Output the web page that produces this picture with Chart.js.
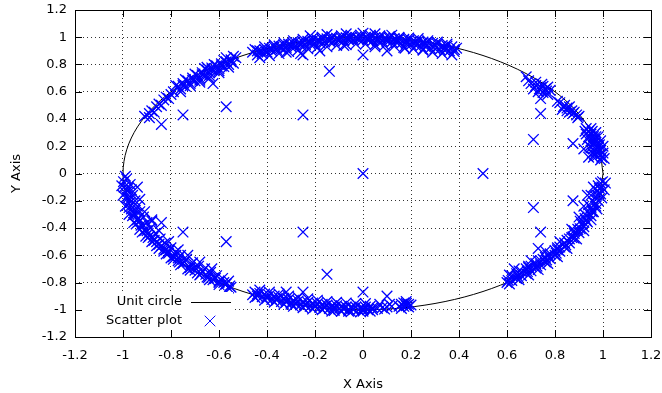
<!DOCTYPE html>
<html><head><meta charset="utf-8">
<script src="https://cdn.jsdelivr.net/npm/chart.js@4/dist/chart.umd.min.js"></script>
<style>html,body{margin:0;padding:0;background:#fff;}</style>
</head><body>
<canvas id="c" width="662" height="393"></canvas>
<script>
// ---- tick labels ----
const tickValues = [-1.2,-1,-0.8,-0.6,-0.4,-0.2,0,0.2,0.4,0.6,0.8,1,1.2];
const tickLabels = ['-1.2','-1','-0.8','-0.6','-0.4','-0.2','0','0.2','0.4','0.6','0.8','1','1.2'];

// ---- unit circle (every 10 degrees) ----
const circleX = [1,0.9848,0.9397,0.8660,0.7660,0.6428,0.5,0.3420,0.1736,0,-0.1736,-0.3420,-0.5,-0.6428,-0.7660,-0.8660,-0.9397,-0.9848,-1,-0.9848,-0.9397,-0.8660,-0.7660,-0.6428,-0.5,-0.3420,-0.1736,0,0.1736,0.3420,0.5,0.6428,0.7660,0.8660,0.9397,0.9848,1];
const circleY = [0,0.1736,0.3420,0.5,0.6428,0.7660,0.8660,0.9397,0.9848,1,0.9848,0.9397,0.8660,0.7660,0.6428,0.5,0.3420,0.1736,0,-0.1736,-0.3420,-0.5,-0.6428,-0.7660,-0.8660,-0.9397,-0.9848,-1,-0.9848,-0.9397,-0.8660,-0.7660,-0.6428,-0.5,-0.3420,-0.1736,0];

// ---- scatter points, by cluster [x, y] ----
const topArc = [
[-0.46,0.89],[-0.44,0.90],[-0.43,0.90],[-0.41,0.91],[-0.39,0.92],[-0.37,0.93],[-0.35,0.935],[-0.33,0.945],[-0.31,0.95],[-0.29,0.955],[-0.27,0.96],[-0.25,0.965],[-0.23,0.97],[-0.21,0.975],[-0.19,0.98],[-0.17,0.985],[-0.15,0.988],[-0.13,0.99],[-0.11,0.993],[-0.09,0.995],[-0.07,0.997],[-0.05,0.998],[-0.03,1.0],[-0.01,1.0],[0.01,1.0],[0.03,0.999],[0.05,0.998],[0.07,0.997],[0.09,0.995],[0.11,0.993],[0.13,0.99],[0.15,0.988],[0.17,0.985],[0.19,0.98],[0.21,0.975],[0.23,0.97],[0.25,0.965],[0.27,0.96],[0.29,0.955],[0.31,0.95],[0.33,0.94],[0.35,0.935],[0.37,0.93],[0.39,0.92],
[-0.44,0.87],[-0.42,0.88],[-0.40,0.89],[-0.38,0.90],[-0.36,0.91],[-0.34,0.915],[-0.32,0.925],[-0.30,0.93],[-0.28,0.935],[-0.26,0.94],[-0.24,0.945],[-0.22,0.95],[-0.20,0.955],[-0.18,0.96],[-0.16,0.965],[-0.14,0.97],[-0.12,0.97],[-0.10,0.975],[-0.08,0.975],[-0.06,0.98],[-0.04,0.98],[-0.02,0.985],[0.00,0.98],[0.02,0.98],[0.04,0.975],[0.06,0.975],[0.08,0.97],[0.10,0.97],[0.12,0.965],[0.14,0.96],[0.16,0.955],[0.18,0.95],[0.20,0.945],[0.22,0.94],[0.24,0.935],[0.26,0.93],[0.28,0.92],[0.30,0.915],[0.32,0.91],[0.34,0.905],[0.36,0.90],[0.38,0.895],
[-0.45,0.91],[-0.41,0.93],[-0.37,0.945],[-0.33,0.96],[-0.29,0.975],[-0.25,0.985],[-0.21,0.995],[-0.17,1.0],[-0.13,1.005],[-0.09,1.01],[-0.05,1.015],[-0.01,1.015],[0.03,1.015],[0.07,1.01],[0.11,1.005],[0.15,1.0],[0.19,0.995],[0.23,0.99],[0.27,0.975],[0.31,0.965],[0.35,0.95],
[-0.43,0.85],[-0.39,0.865],[-0.35,0.88],[-0.31,0.895],[-0.27,0.905],[-0.23,0.915],[-0.19,0.925],[-0.15,0.93],[-0.11,0.94],[-0.07,0.945],[-0.03,0.95],[0.01,0.95],[0.05,0.945],[0.09,0.94],[0.13,0.935],[0.17,0.925],[0.21,0.915],[0.25,0.905],[0.29,0.89],[0.33,0.88],[0.37,0.87],
[-0.42,0.895],[-0.38,0.915],[-0.34,0.93],[-0.30,0.945],[-0.26,0.955],[-0.22,0.965],[-0.18,0.975],[-0.14,0.98],[-0.10,0.985],[-0.06,0.99],[-0.02,0.99],[0.02,0.99],[0.06,0.985],[0.10,0.985],[0.14,0.98],[0.18,0.97],[0.22,0.965],[0.26,0.955],[0.30,0.94],[0.34,0.925],[0.38,0.91],
[-0.15,1.02],[-0.07,1.025],[0.0,1.03],[0.05,1.025],[0.12,1.015],[-0.22,1.01],
[-0.32,0.89],[-0.26,0.88],[-0.18,0.90],[0.10,0.90],[0.175,0.92],[0.05,0.93],[-0.08,0.94],[0.25,0.91]
];
const upperLeftArc = [
[-0.53,0.85],[-0.55,0.835],[-0.57,0.82],[-0.59,0.805],[-0.61,0.79],[-0.63,0.775],[-0.65,0.76],[-0.67,0.74],[-0.69,0.72],[-0.71,0.70],[-0.73,0.68],[-0.75,0.66],[-0.77,0.64],
[-0.54,0.81],[-0.56,0.80],[-0.58,0.785],[-0.60,0.77],[-0.62,0.755],[-0.64,0.74],[-0.66,0.72],[-0.68,0.70],[-0.70,0.68],[-0.72,0.66],[-0.74,0.64],[-0.76,0.62],
[-0.54,0.86],[-0.58,0.83],[-0.62,0.80],[-0.66,0.77],[-0.70,0.73],[-0.74,0.69],[-0.78,0.645],
[-0.56,0.78],[-0.60,0.755],[-0.64,0.72],[-0.68,0.685],[-0.72,0.645],[-0.76,0.60],
[-0.55,0.82],[-0.59,0.79],[-0.63,0.76],[-0.67,0.725],[-0.71,0.685],[-0.75,0.645],[-0.57,0.85],[-0.65,0.78],
[-0.60,0.74],[-0.64,0.70],[-0.625,0.66],[-0.68,0.67],
[-0.79,0.60],[-0.80,0.58],[-0.82,0.56],[-0.83,0.54],[-0.85,0.51],[-0.86,0.49],[-0.88,0.46],[-0.89,0.44],[-0.91,0.42],[-0.81,0.55],[-0.84,0.50],[-0.87,0.45]
];
const lowerLeftArc = [
[-0.998,-0.06],[-0.995,-0.10],[-0.99,-0.14],[-0.98,-0.18],[-0.975,-0.22],[-0.965,-0.26],[-0.95,-0.30],[-0.94,-0.34],[-0.925,-0.38],[-0.91,-0.42],[-0.89,-0.46],[-0.87,-0.49],[-0.85,-0.52],[-0.83,-0.555],[-0.81,-0.585],[-0.79,-0.61],[-0.77,-0.64],[-0.75,-0.66],[-0.72,-0.69],[-0.70,-0.71],[-0.675,-0.735],[-0.65,-0.76],[-0.625,-0.78],[-0.60,-0.80],[-0.575,-0.815],[-0.55,-0.835],
[-0.97,-0.08],[-0.965,-0.12],[-0.96,-0.16],[-0.95,-0.20],[-0.94,-0.24],[-0.93,-0.28],[-0.915,-0.32],[-0.90,-0.36],[-0.885,-0.40],[-0.865,-0.44],[-0.845,-0.48],[-0.825,-0.51],[-0.80,-0.545],[-0.78,-0.575],[-0.76,-0.60],[-0.735,-0.63],[-0.71,-0.655],[-0.685,-0.68],[-0.66,-0.70],[-0.635,-0.725],[-0.61,-0.75],[-0.585,-0.77],[-0.56,-0.79],
[-0.98,-0.11],[-0.97,-0.19],[-0.95,-0.27],[-0.93,-0.35],[-0.90,-0.42],[-0.86,-0.50],[-0.82,-0.56],[-0.77,-0.62],[-0.72,-0.67],[-0.67,-0.72],[-0.62,-0.765],[-0.58,-0.80],
[-1.005,-0.09],[-1.0,-0.16],[-0.99,-0.24],[-0.975,-0.30],[-0.955,-0.36],[-0.93,-0.41],[-0.905,-0.46],[-0.88,-0.50],[-0.85,-0.55],[-0.82,-0.59],[-0.79,-0.63],[-0.76,-0.67],[-0.72,-0.71],[-0.68,-0.745],[-0.64,-0.78],[-0.60,-0.815],[-0.56,-0.84],
[-0.985,-0.04],[-0.98,-0.13],[-0.97,-0.21],[-0.955,-0.29],[-0.935,-0.33],[-0.915,-0.38],[-0.895,-0.44],[-0.875,-0.47],[-0.84,-0.53],[-0.81,-0.57],[-0.78,-0.60],[-0.745,-0.65],[-0.70,-0.69],[-0.655,-0.74],[-0.615,-0.77],[-0.57,-0.81],
[-0.99,-0.02],[-0.985,-0.17],[-0.975,-0.25],[-0.96,-0.31],[-0.945,-0.37],[-0.92,-0.43],[-0.895,-0.47],[-0.86,-0.53],[-0.83,-0.57],[-0.80,-0.62],[-0.765,-0.65],[-0.73,-0.70],[-0.69,-0.73],[-0.645,-0.765],[-0.60,-0.79],[-0.555,-0.825],
[-0.94,-0.10],[-0.93,-0.19],[-0.91,-0.28],[-0.88,-0.35],[-0.85,-0.42],[-0.81,-0.50],[-0.77,-0.56],[-0.73,-0.60],[-0.68,-0.65],[-0.63,-0.70]
];
const bottomArc = [
[-0.46,-0.89],[-0.44,-0.90],[-0.42,-0.905],[-0.40,-0.915],[-0.38,-0.925],[-0.36,-0.93],[-0.34,-0.94],[-0.32,-0.945],[-0.30,-0.95],[-0.28,-0.96],[-0.26,-0.965],[-0.24,-0.97],[-0.22,-0.975],[-0.20,-0.98],[-0.18,-0.983],[-0.16,-0.987],[-0.14,-0.99],[-0.12,-0.993],[-0.10,-0.995],[-0.08,-0.997],[-0.06,-0.998],[-0.04,-0.999],[-0.02,-1.0],[0.0,-1.0],[0.02,-1.0],[0.04,-0.999],
[-0.45,-0.87],[-0.43,-0.88],[-0.41,-0.885],[-0.39,-0.895],[-0.37,-0.90],[-0.35,-0.91],[-0.33,-0.915],[-0.31,-0.925],[-0.29,-0.93],[-0.27,-0.935],[-0.25,-0.94],[-0.23,-0.945],[-0.21,-0.95],[-0.19,-0.955],[-0.17,-0.96],[-0.15,-0.965],[-0.13,-0.97],[-0.11,-0.97],[-0.09,-0.975],[-0.07,-0.98],[-0.05,-0.98],[-0.03,-0.98],[-0.01,-0.985],[0.01,-0.98],[0.03,-0.975],
[-0.45,-0.91],[-0.41,-0.93],[-0.37,-0.945],[-0.33,-0.96],[-0.29,-0.975],[-0.25,-0.985],[-0.21,-0.995],[-0.17,-1.0],[-0.13,-1.01],[-0.09,-1.01],[-0.05,-1.015],[-0.01,-1.015],[0.03,-1.01],
[-0.43,-0.855],[-0.39,-0.87],[-0.35,-0.885],[-0.31,-0.90],[-0.27,-0.91],[-0.23,-0.92],[-0.19,-0.93],[-0.15,-0.94],[-0.11,-0.945],[-0.07,-0.95],[-0.03,-0.955],[0.01,-0.955],
[-0.44,-0.885],[-0.40,-0.905],[-0.36,-0.92],[-0.32,-0.935],[-0.28,-0.95],[-0.24,-0.96],[-0.20,-0.97],[-0.16,-0.975],[-0.12,-0.98],[-0.08,-0.985],[-0.04,-0.99],[0.0,-0.99],[0.04,-0.985],
[-0.12,-1.005],[-0.06,-1.01],[0.0,-1.01],[-0.30,-0.96],
[0.06,-0.99],[0.08,-0.985],[0.10,-0.98],[0.07,-0.96],[0.11,-0.96],[0.09,-0.995],[0.12,-0.975],
[0.15,-0.975],[0.17,-0.975],[0.18,-0.97],[0.19,-0.98],[0.16,-0.96],[0.18,-0.955],[0.20,-0.965],[0.16,-0.99],[0.19,-0.96],[0.17,-0.95]
];
const lowerRightArc = [
[0.60,-0.80],[0.62,-0.785],[0.64,-0.77],[0.66,-0.75],[0.68,-0.733],[0.70,-0.714],[0.72,-0.694],[0.74,-0.67],[0.76,-0.65],[0.78,-0.625],[0.80,-0.60],[0.82,-0.57],[0.84,-0.54],[0.86,-0.51],[0.88,-0.475],[0.90,-0.435],[0.92,-0.39],[0.935,-0.355],[0.95,-0.31],[0.96,-0.28],[0.97,-0.24],[0.98,-0.20],[0.99,-0.15],[0.995,-0.10],[0.998,-0.06],
[0.62,-0.75],[0.64,-0.735],[0.66,-0.72],[0.68,-0.70],[0.70,-0.68],[0.72,-0.66],[0.74,-0.64],[0.76,-0.615],[0.78,-0.59],[0.80,-0.565],[0.82,-0.54],[0.84,-0.51],[0.86,-0.48],[0.88,-0.44],[0.895,-0.41],[0.91,-0.37],[0.925,-0.33],[0.94,-0.29],[0.95,-0.25],[0.96,-0.21],[0.97,-0.17],[0.975,-0.13],[0.98,-0.09],
[0.69,-0.69],[0.75,-0.63],[0.81,-0.56],[0.87,-0.47],[0.92,-0.36],[0.955,-0.27],[0.975,-0.16],[0.985,-0.11],
[0.61,-0.81],[0.65,-0.78],[0.69,-0.745],[0.73,-0.705],[0.77,-0.66],[0.81,-0.61],[0.85,-0.55],[0.89,-0.48],[0.92,-0.42],[0.95,-0.34],[0.975,-0.26],[0.995,-0.18],[1.005,-0.12],[1.01,-0.07],
[0.61,-0.745],[0.65,-0.715],[0.69,-0.68],[0.73,-0.64],[0.77,-0.60],[0.81,-0.545],[0.85,-0.49],[0.88,-0.42],[0.905,-0.35],[0.925,-0.30],[0.94,-0.23],[0.95,-0.16],[0.96,-0.10],
[0.605,-0.785],[0.645,-0.755],[0.685,-0.72],[0.725,-0.68],[0.765,-0.635],[0.805,-0.585],[0.845,-0.525],[0.875,-0.465],[0.905,-0.405],[0.93,-0.345],[0.955,-0.28],[0.97,-0.22],[0.985,-0.14],[0.99,-0.07],
[0.63,-0.70],[0.70,-0.64],[0.76,-0.57],[0.82,-0.50],[0.87,-0.41],[0.90,-0.32],[0.92,-0.24],[0.935,-0.16]
];
const upperRightArc = [
[0.70,0.66],[0.72,0.645],[0.74,0.63],[0.75,0.64],[0.76,0.62],[0.77,0.635],[0.78,0.61],[0.73,0.60],[0.71,0.62],[0.75,0.595],[0.69,0.68],[0.77,0.58],[0.745,0.655],[0.72,0.67],[0.765,0.605],[0.735,0.62],[0.68,0.71],
[0.82,0.52],[0.84,0.50],[0.85,0.48],[0.86,0.49],[0.87,0.46],[0.88,0.45],[0.89,0.43],[0.90,0.42],[0.83,0.47],[0.86,0.45],[0.835,0.49],[0.875,0.44],[0.85,0.46],[0.895,0.41],[0.81,0.53],
[0.93,0.33],[0.94,0.31],[0.95,0.29],[0.96,0.27],[0.965,0.25],[0.97,0.23],[0.975,0.21],[0.98,0.19],[0.985,0.17],[0.99,0.14],[0.995,0.12],[0.94,0.27],[0.95,0.24],[0.96,0.22],[0.965,0.19],[0.97,0.16],[0.975,0.13],[0.93,0.29],[0.945,0.20],[0.955,0.15],[0.96,0.12],[0.99,0.10],[0.94,0.12],[0.92,0.18],
[1.0,0.20],[1.0,0.15],[0.99,0.24],[0.98,0.27],[0.97,0.30],[0.95,0.33],[1.005,0.11],
[0.925,0.31],[0.935,0.25],[0.95,0.19],[0.965,0.14],[0.985,0.21],[0.99,0.17],[0.97,0.27],[0.955,0.31]
];
const innerPoints = [
[0,0],[0.5,0],[-0.25,0.43],[-0.25,-0.43],[-0.57,0.49],[-0.57,-0.5],[-0.75,0.43],[-0.75,-0.43],[-0.84,0.36],[-0.84,-0.36],[-0.89,0.41],[-0.88,-0.34],
[-0.14,0.75],[-0.15,-0.74],[0,0.87],[0,-0.87],[-0.25,0.87],[-0.25,-0.87],[-0.32,-0.87],[0.1,-0.9],[0.18,-0.94],
[0.71,0.25],[0.71,-0.25],[0.74,0.44],[0.74,-0.43],[0.875,0.22],[0.875,-0.2],[0.73,-0.55],[0.74,0.55]
];

const FONT = {family: "'DejaVu Sans', sans-serif", size: 13};
const BLUE = '#0000ff';

const toXY = a => a.map(([x, y]) => ({x, y}));
const scatterData = toXY([...topArc, ...upperLeftArc, ...lowerLeftArc, ...bottomArc, ...lowerRightArc, ...upperRightArc, ...innerPoints]);
const circleData = circleX.map((x, i) => ({x, y: circleY[i]}));

const framePlugin = {
  id: 'frame',
  afterDatasetsDraw(chart) {
    const {ctx, chartArea: a, scales: {x, y}} = chart;
    ctx.save();
    ctx.fillStyle = '#fff';
    ctx.fillRect(a.left + 1, 292, 157, a.bottom - 292 - 1);
    ctx.strokeStyle = '#000';
    ctx.lineWidth = 1;
    ctx.setLineDash([]);
    ctx.strokeRect(Math.round(a.left) + 0.5, Math.round(a.top) + 0.5, Math.round(a.right - a.left), Math.round(a.bottom - a.top));
    const L = 7;
    ctx.beginPath();
    tickValues.forEach(v => {
      const px = Math.round(x.getPixelForValue(v)) + 0.5;
      ctx.moveTo(px, a.bottom); ctx.lineTo(px, a.bottom - L);
      ctx.moveTo(px, a.top); ctx.lineTo(px, a.top + L);
      const py = Math.round(y.getPixelForValue(v)) + 0.5;
      ctx.moveTo(a.left, py); ctx.lineTo(a.left + L, py);
      ctx.moveTo(a.right, py); ctx.lineTo(a.right - L, py);
    });
    ctx.stroke();
    ctx.font = `${FONT.size}px ${FONT.family}`;
    ctx.fillStyle = '#000';
    ctx.textAlign = 'right';
    ctx.textBaseline = 'middle';
    const ds = chart.data.datasets;
    ctx.fillText(ds[0].label, 182, 302);
    ctx.fillText(ds[1].label, 182, 321);
    ctx.beginPath();
    ctx.moveTo(191, 302.5); ctx.lineTo(231, 302.5);
    ctx.stroke();
    ctx.strokeStyle = BLUE;
    const h = 5.3;
    ctx.beginPath();
    ctx.moveTo(210 - h, 321 - h); ctx.lineTo(210 + h, 321 + h);
    ctx.moveTo(210 - h, 321 + h); ctx.lineTo(210 + h, 321 - h);
    ctx.stroke();
    ctx.restore();
  }
};

const noPad = s => { s.paddingTop = 0; s.paddingBottom = 0; s.paddingLeft = 0; s.paddingRight = 0; };
const axisCommon = {
  type: 'linear', min: -1.2, max: 1.2,
  afterBuildTicks: s => { s.ticks = tickValues.map(v => ({value: v})); },
  grid: {color: 'rgba(0,0,0,0.8)', lineWidth: 1, drawTicks: false},
  border: {display: false, dash: [1, 3]},
};

new Chart(document.getElementById('c'), {
  type: 'scatter',
  data: {
    datasets: [
      {label: 'Unit circle', data: circleData, showLine: true, borderColor: '#000', borderWidth: 1, pointRadius: 0, tension: 0.335, fill: false, order: 2},
      {label: 'Scatter plot', data: scatterData, pointStyle: 'crossRot', pointRadius: 7.5, borderColor: BLUE, backgroundColor: BLUE, pointBorderWidth: 1.3, borderWidth: 1.3, showLine: false, order: 1}
    ]
  },
  options: {
    responsive: false, animation: false, devicePixelRatio: 1, events: [],
    layout: {padding: {top: 10, right: 11, left: 0, bottom: 0}},
    plugins: {legend: {display: false}, tooltip: {enabled: false}},
    scales: {
      x: Object.assign({}, axisCommon, {
        position: 'bottom',
        ticks: {callback: (v, i) => tickLabels[i], font: FONT, color: '#000', padding: 11, autoSkip: false, maxRotation: 0},
        title: {display: true, text: 'X Axis', font: FONT, color: '#000', padding: {top: 0, bottom: 1}},
        afterFit: s => { s.height = 56; noPad(s); }
      }),
      y: Object.assign({}, axisCommon, {
        position: 'left',
        ticks: {callback: (v, i) => tickLabels[i], font: FONT, color: '#000', padding: 8, autoSkip: false},
        title: {display: true, text: 'Y Axis', font: FONT, color: '#000', padding: {top: 9, bottom: 0}},
        afterFit: s => { s.width = 75; noPad(s); }
      })
    }
  },
  plugins: [framePlugin]
});
</script>
</body></html>
